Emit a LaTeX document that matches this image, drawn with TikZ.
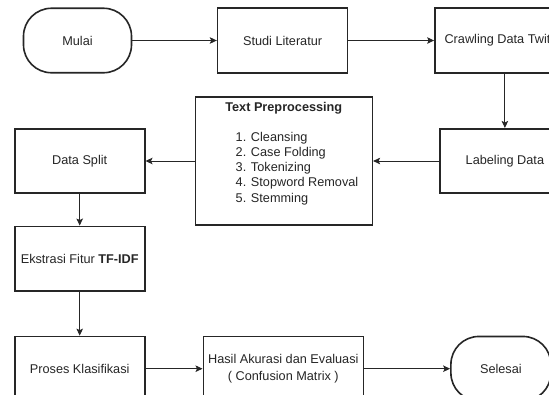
\documentclass[tikz,border=0pt]{standalone}
\usepackage{fontspec}
\setmainfont{Liberation Sans}
\usepackage{xcolor}
\usepackage{tikz}
\usetikzlibrary{arrows.meta, positioning, calc}

\begin{document}
\begin{tikzpicture}[
    x=1pt, y=-1pt,
    font=\fontsize{12.7pt}{15.2pt}\selectfont,
    box/.style={rectangle, draw=black!85, line width=1.6pt, fill=white, minimum width=130pt, minimum height=64.5pt, align=center, text=black!85, inner sep=2pt},
    term/.style={box, rounded corners=28pt},
    arr/.style={-{Stealth[length=7pt, width=6.5pt, inset=1.5pt]}, line width=0.9pt, draw=black!85},
  ]
    \useasboundingbox (0,0) rectangle (549,394);
    \fill[white] (0,0) rectangle (549,394);
    \clip (0,0) rectangle (549,394);

    % Baris atas
    \node[term, minimum width=108pt] (mulai) at (77.5,40.5) {Mulai};
    \node[box, right=84.5pt of mulai] (studi) {Studi Literatur};
    \node[box, minimum width=140pt, right=85.7pt of studi] (crawl) {Crawling Data Twitter};
    \draw[arr] (mulai) -- (studi);
    \draw[arr] (studi) -- (crawl);

    % Labeling dan preprocessing
    \node[box, below=54.4pt of crawl] (label) {Labeling Data};
    \draw[arr] (crawl) -- (label);
    \node[box, minimum width=177pt, minimum height=128pt, left=66pt of label] (prep) {};
    \node[font=\fontsize{12.7pt}{15.2pt}\bfseries, text=black!85, anchor=center] (preptitle) at ($(prep.north)+(0,12.4)$) {Text Preprocessing};
    \node[align=left, text=black!85, inner sep=0pt, anchor=west] (preplist) at ($(prep.west)+(41,7.5)$)
      {1. Cleansing\\2. Case Folding\\3. Tokenizing\\4. Stopword Removal\\5. Stemming};
    \draw[arr] (label) -- (prep);

    % Kolom kiri
    \node[box, left=49pt of prep] (split) {Data Split};
    \draw[arr] (prep) -- (split);
    \node[box, below=31.5pt of split] (ekstr) {Ekstrasi Fitur \textbf{TF-IDF}};
    \draw[arr] (split) -- (ekstr);
    \node[box, below=44pt of ekstr] (proses) {Proses Klasifikasi};
    \draw[arr] (ekstr) -- (proses);

    % Baris bawah
    \node[box, minimum width=160pt, right=57pt of proses] (hasil) {Hasil Akurasi dan Evaluasi\\[2.5pt]( Confusion Matrix )};
    \node[term, minimum width=100pt, right=86pt of hasil] (selesai) {Selesai};
    \draw[arr] (proses) -- (hasil);
    \draw[arr] (hasil) -- (selesai);
  \end{tikzpicture}
\end{document}
